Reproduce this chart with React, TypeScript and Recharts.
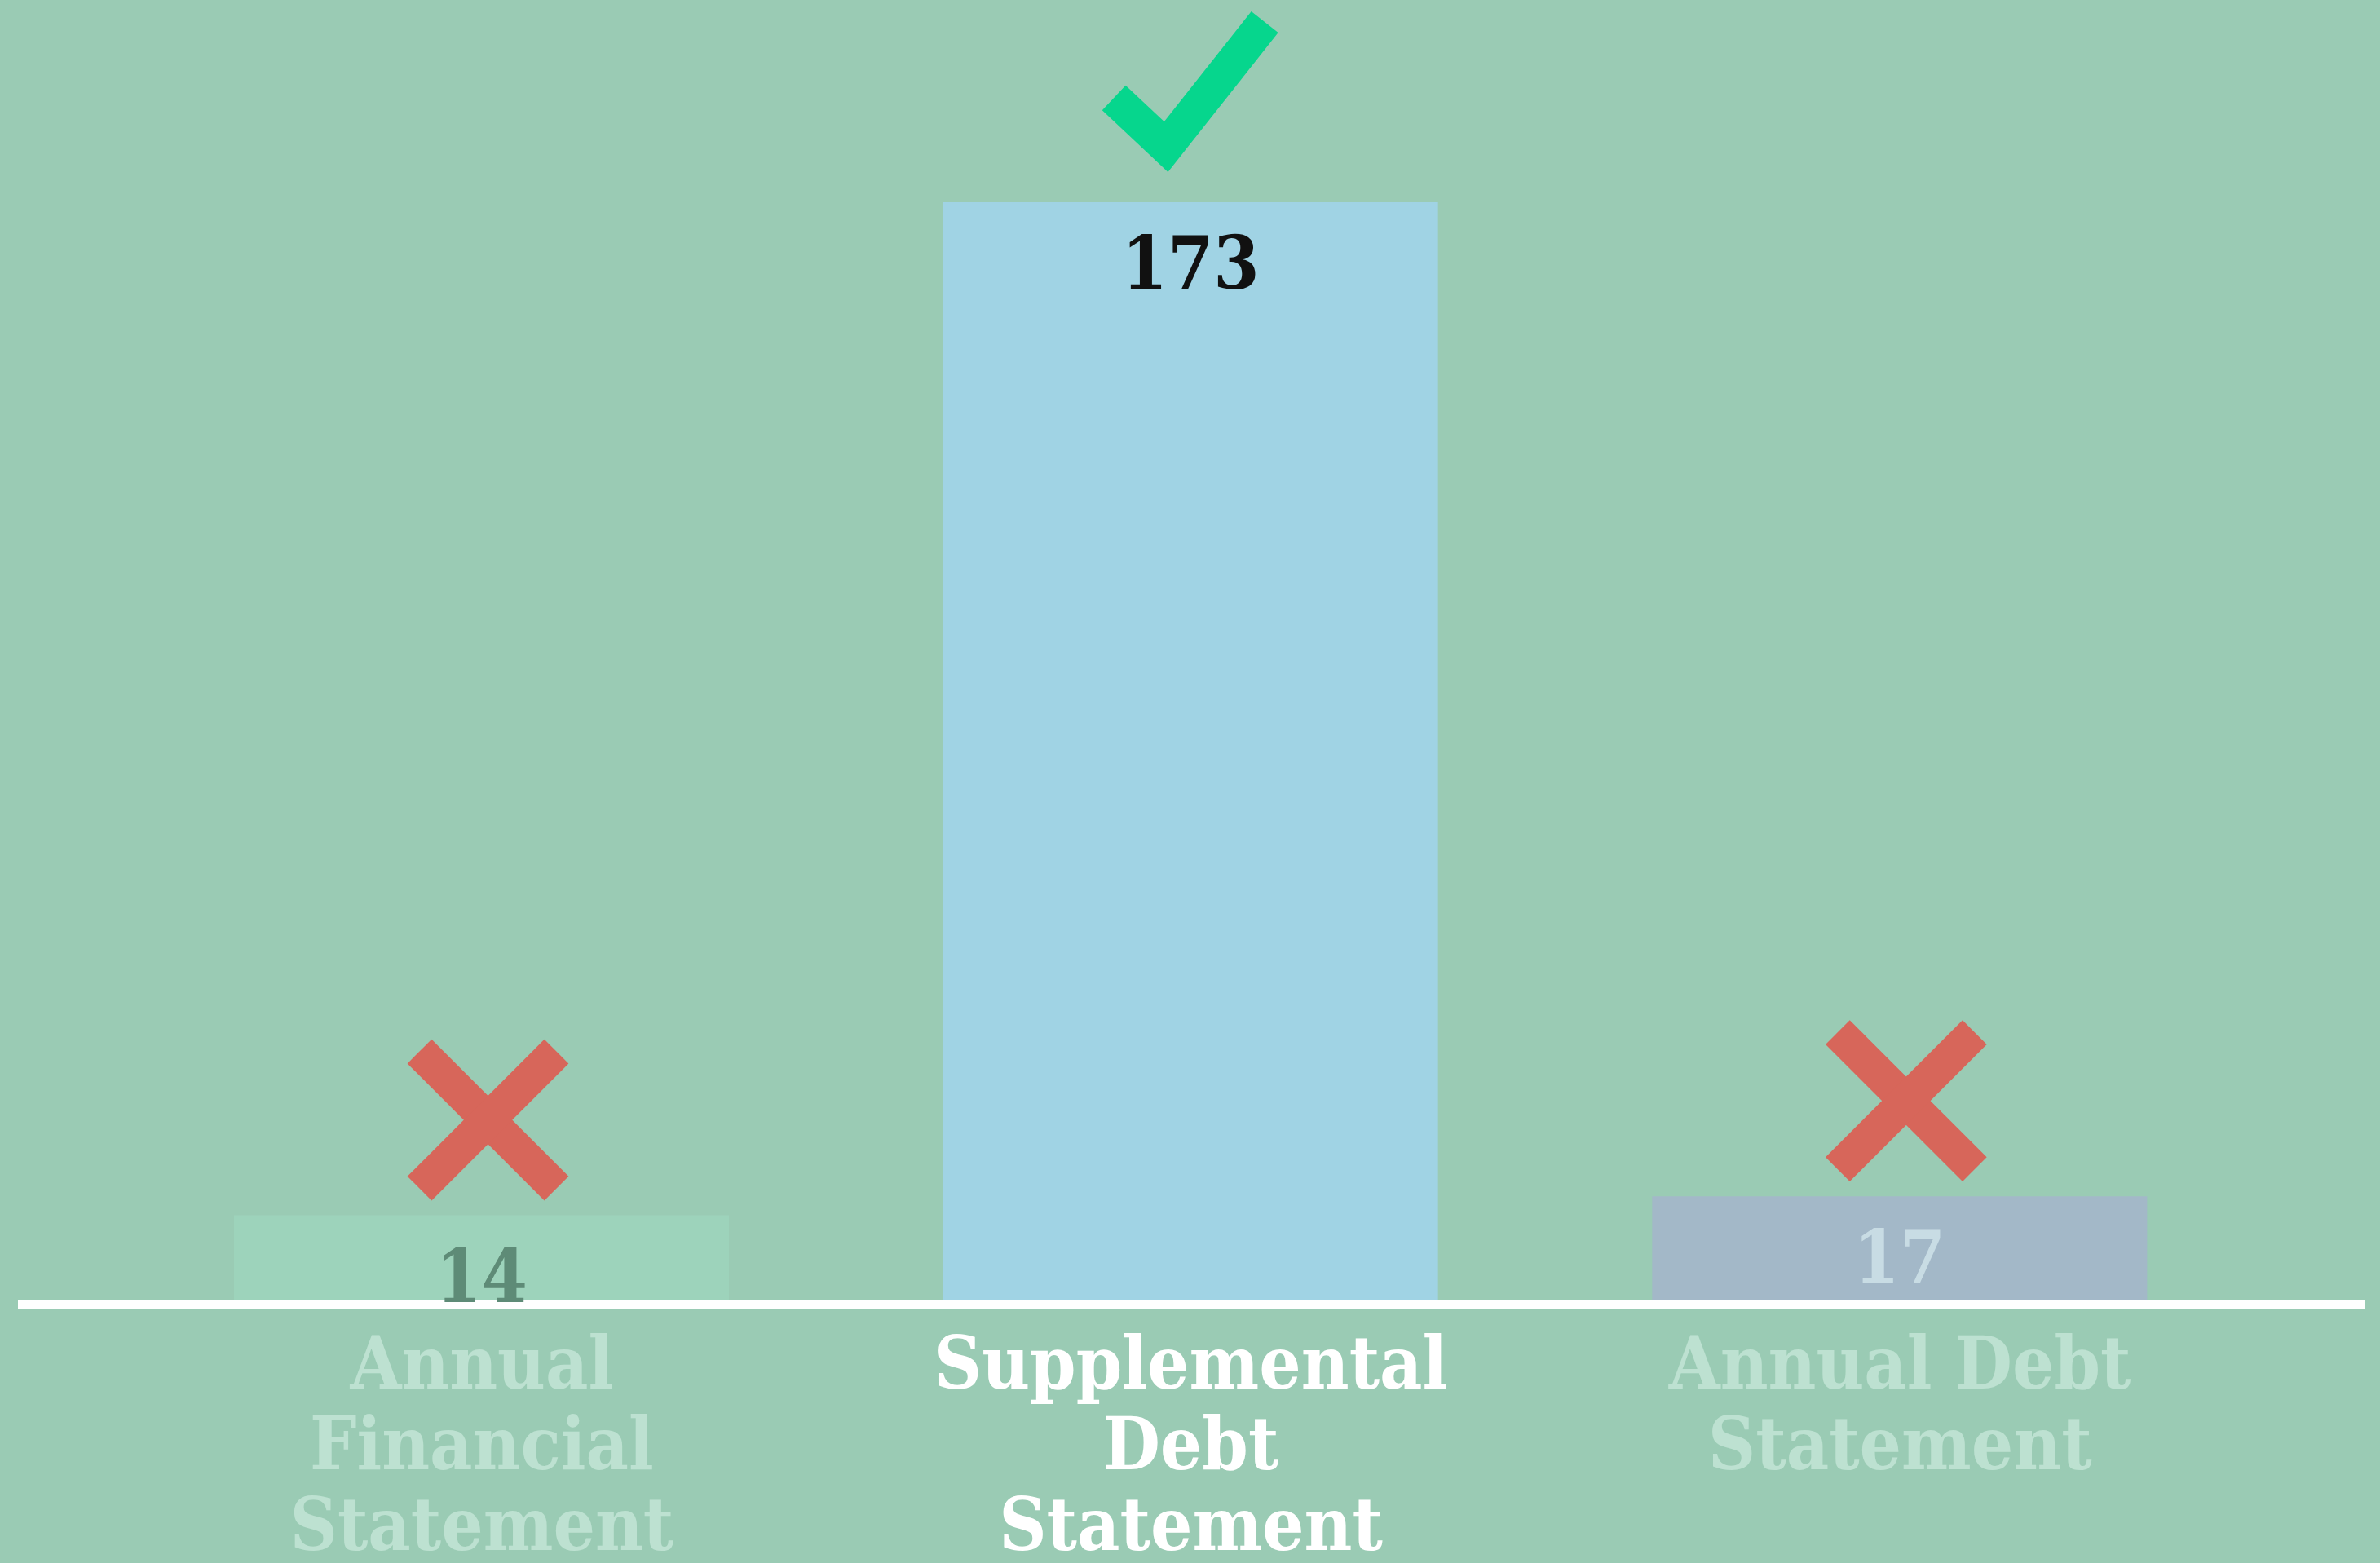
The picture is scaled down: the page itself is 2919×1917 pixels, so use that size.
import { Bar, BarChart, Cell, LabelList, XAxis, YAxis } from "recharts"

// 3 statement types, counts
const categories = [
  "Annual Financial Statement",
  "Supplemental Debt Statement",
  "Annual Debt Statement",
]
const tickLines = [
  ["Annual", "Financial", "Statement"],
  ["Supplemental", "Debt", "Statement"],
  ["Annual Debt", "Statement"],
]
const counts = [14, 173, 17]
const verdicts = ["cross", "check", "cross"]

const BG = "#9acbb4"
const barColors = ["#9dd3bb", "#a0d3e4", "#a3b8c8"]
const valueColors = ["#5e8b77", "#111111", "#c8dce4"]
const tickColors = ["#bde1d1", "#ffffff", "#bde1d1"]
const FONT = "'DejaVu Serif Condensed', 'DejaVu Serif', serif"

const data = categories.map((name, i) => ({
  name,
  count: counts[i],
  verdict: verdicts[i],
}))

const CategoryTick = (props: any) => {
  const { x, y, payload } = props
  const i = categories.indexOf(payload.value)
  const lines = tickLines[i] || [payload.value]
  return (
    <text
      x={x}
      y={y}
      textAnchor="middle"
      fill={tickColors[i]}
      fontFamily={FONT}
      fontStretch="condensed"
      fontWeight={700}
      fontSize={90}
    >
      {lines.map((line, k) => (
        <tspan key={k} x={x} dy={k === 0 ? 103 : 99}>
          {line}
        </tspan>
      ))}
    </text>
  )
}

const ValueLabel = (props: any) => {
  const { x, y, width, value, index } = props
  return (
    <text
      x={x + width / 2}
      y={y + 106}
      textAnchor="middle"
      fill={valueColors[index]}
      fontFamily={FONT}
      fontStretch="condensed"
      fontWeight={700}
      fontSize={90}
    >
      {value}
    </text>
  )
}

// check mark / cross drawn above each bar
const VerdictMark = (props: any) => {
  const { x, y, width, value } = props
  const cx = x + width / 2
  if (value === "check") {
    const pts = [
      [cx - 94, y - 128],
      [cx - 30, y - 68],
      [cx + 91, y - 221],
    ]
    return (
      <polyline
        points={pts.map((p) => p.join(",")).join(" ")}
        fill="none"
        stroke="#06d68d"
        strokeWidth={42}
        strokeLinejoin="miter"
        strokeLinecap="butt"
      />
    )
  }
  const mx = cx + 8
  const my = y - 117
  const s = 84
  return (
    <g stroke="#d7665a" strokeWidth={42} strokeLinecap="butt">
      <line x1={mx - s} y1={my - s} x2={mx + s} y2={my + s} />
      <line x1={mx - s} y1={my + s} x2={mx + s} y2={my - s} />
    </g>
  )
}

export default function App() {
  return (
    <div
      style={{
        position: "absolute",
        left: 0,
        top: 0,
        width: 2919,
        height: 1917,
        background: BG,
      }}
    >
      <BarChart
        width={2919}
        height={1917}
        data={data}
        margin={{ top: 248, right: 19, bottom: 0, left: 22 }}
      >
        <YAxis hide domain={[0, 173]} />
        <Bar dataKey="count" barSize={607} isAnimationActive={false}>
          {data.map((d, i) => (
            <Cell key={d.name} fill={barColors[i]} />
          ))}
          <LabelList dataKey="count" content={ValueLabel} />
          <LabelList dataKey="verdict" content={VerdictMark} />
        </Bar>
        <XAxis
          dataKey="name"
          height={317}
          padding={{ left: 134, right: 135 }}
          axisLine={{ stroke: "#ffffff", strokeWidth: 11 }}
          tickLine={false}
          tickSize={0}
          tickMargin={0}
          interval={0}
          tick={CategoryTick}
        />
      </BarChart>
    </div>
  )
}
